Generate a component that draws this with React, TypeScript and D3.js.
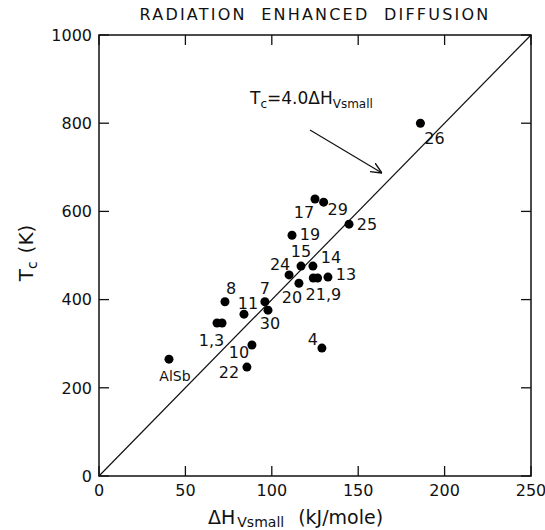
import React from "react";
import * as d3 from "d3";

const labels = ["1", "3", "4", "7", "8", "9", "21", "10", "11", "13", "14", "15", "17", "19", "20", "22", "24", "25", "26", "29", "30", "AlSb"];
const dH = [68.3, 71.2, 129, 96, 72.9, 126.5, 124, 88.5, 83.9, 132.5, 123.8, 116.9, 125, 111.7, 115.7, 85.6, 110, 144.7, 186, 130, 97.8, 40.5];
const Tc = [347, 347, 290, 395, 395, 449, 449, 297, 367, 451, 476, 476, 628, 546, 437, 247, 456, 571, 800, 621, 376, 265];

const xTicks = [0, 50, 100, 150, 200, 250];
const yTicks = [0, 200, 400, 600, 800, 1000];
const slope = 4.0;

// label placement (layout only)
const pointLabels: { text: string; ref: number[]; dx: number; dy: number }[] = [
  { text: "1,3", ref: [0, 1], dx: -8, dy: 17 },
  { text: "4", ref: [2], dx: -9, dy: -9 },
  { text: "7", ref: [3], dx: 0, dy: -14 },
  { text: "8", ref: [4], dx: 6, dy: -14 },
  { text: "21,9", ref: [5, 6], dx: 8, dy: 16 },
  { text: "10", ref: [7], dx: -13, dy: 7 },
  { text: "11", ref: [8], dx: 4, dy: -11 },
  { text: "13", ref: [9], dx: 18, dy: -3 },
  { text: "14", ref: [10], dx: 18, dy: -9 },
  { text: "15", ref: [11], dx: 0, dy: -15 },
  { text: "17", ref: [12], dx: -11, dy: 13 },
  { text: "19", ref: [13], dx: 18, dy: -1 },
  { text: "20", ref: [14], dx: -7, dy: 14 },
  { text: "22", ref: [15], dx: -18, dy: 5 },
  { text: "24", ref: [16], dx: -9, dy: -11 },
  { text: "25", ref: [17], dx: 18, dy: 0 },
  { text: "26", ref: [18], dx: 14, dy: 15 },
  { text: "29", ref: [19], dx: 14, dy: 7 },
  { text: "30", ref: [20], dx: 2, dy: 13 },
  { text: "AlSb", ref: [21], dx: 6, dy: 17 },
];

export default function App() {
  const W = 545, H = 530;
  const x = d3.scaleLinear().domain([0, 250]).range([99, 531]);
  const y = d3.scaleLinear().domain([0, 1000]).range([476, 35]);
  const font = "'DejaVu Sans', Verdana, sans-serif";
  const tl = 10;
  const line = d3.line<number>().x((d) => x(d)).y((d) => y(slope * d));
  return (
    <svg width={W} height={H} style={{ position: "absolute", left: 0, top: 0, background: "#fff" }} fontFamily={font}>
      <text x={315} y={20} textAnchor="middle" fontSize={16} letterSpacing={2.2} fill="#111" style={{ whiteSpace: "pre" }}>
        {"RADIATION  ENHANCED  DIFFUSION"}
      </text>
      <rect x={x(0)} y={y(1000)} width={x(250) - x(0)} height={y(0) - y(1000)} fill="none" stroke="#111" strokeWidth={1.5} />
      {xTicks.map((t) => (
        <g key={"xt" + t}>
          <line x1={x(t)} x2={x(t)} y1={y(0)} y2={y(0) - tl} stroke="#111" strokeWidth={1.3} />
          <line x1={x(t)} x2={x(t)} y1={y(1000)} y2={y(1000) + tl} stroke="#111" strokeWidth={1.3} />
          <text x={x(t)} y={496} textAnchor="middle" fontSize={16} fill="#111">{t}</text>
        </g>
      ))}
      {yTicks.map((t) => (
        <g key={"yt" + t}>
          <line x1={x(0)} x2={x(0) + tl} y1={y(t)} y2={y(t)} stroke="#111" strokeWidth={1.3} />
          <line x1={x(250)} x2={x(250) - tl} y1={y(t)} y2={y(t)} stroke="#111" strokeWidth={1.3} />
          <text x={92} y={y(t)} dy="0.36em" textAnchor="end" fontSize={16} fill="#111">{t}</text>
        </g>
      ))}
      <path d={line([0, 250]) || ""} fill="none" stroke="#111" strokeWidth={1.2} />
      {dH.map((v, i) => (
        <circle key={"p" + i} cx={x(v)} cy={y(Tc[i])} r={4.5} fill="#000" />
      ))}
      {pointLabels.map((l) => {
        const cx = d3.mean(l.ref, (r) => x(dH[r])) as number;
        const cy = d3.mean(l.ref, (r) => y(Tc[r])) as number;
        return (
          <text key={"l" + l.text} x={cx + l.dx} y={cy + l.dy} dy="0.36em" textAnchor="middle" fontSize={l.text === "AlSb" ? 14 : 16} fill="#111">
            {l.text}
          </text>
        );
      })}
      <text x={250} y={104} fontSize={17} fill="#111">
        T<tspan fontSize={12} dy={4}>c</tspan>
        <tspan dy={-4}>=4.0ΔH</tspan>
        <tspan fontSize={12} dy={4}>Vsmall</tspan>
      </text>
      <defs>
        <marker id="ah" viewBox="0 0 10 10" refX={10} refY={5} markerWidth={11} markerHeight={11} orient="auto" markerUnits="userSpaceOnUse">
          <path d="M0,0.5 L10,5 L0,9.5" fill="none" stroke="#111" strokeWidth={1.3} />
        </marker>
      </defs>
      <line x1={310} y1={130} x2={382} y2={173} stroke="#111" strokeWidth={1.2} markerEnd="url(#ah)" />
      <text x={26} y={253} transform="rotate(-90 26 253)" textAnchor="middle" dy="0.36em" fontSize={20} fill="#111" style={{ whiteSpace: "pre" }}>
        T<tspan fontSize={14} dy={4}>c</tspan>
        <tspan dy={-4} dx={8}>(K)</tspan>
      </text>
      <text x={208} y={524} fontSize={19} fill="#111">
        ΔH<tspan fontSize={14} dy={3} dx={2}>Vsmall</tspan>
        <tspan dy={-3} dx={14}>(kJ/mole)</tspan>
      </text>
    </svg>
  );
}
